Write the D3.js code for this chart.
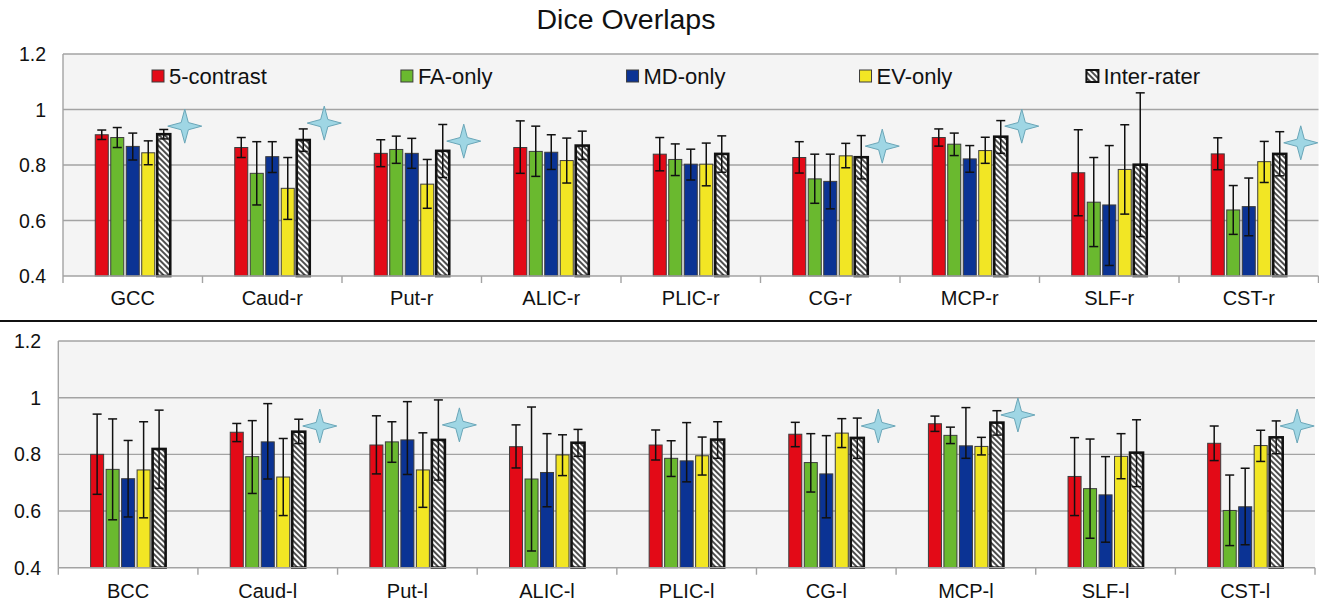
<!DOCTYPE html>
<html>
<head>
<meta charset="utf-8">
<script src="https://cdn.jsdelivr.net/npm/d3@7"></script>
<style>
  html, body { margin: 0; padding: 0; background: #fff; }
  svg { display: block; font-family: "Liberation Sans", Arial, sans-serif; }
</style>
</head>
<body>
<svg id="chart" width="1319" height="603"></svg>
<script>
// ---- Data -------------------------------------------------------------
const seriesNames = ["5-contrast", "FA-only", "MD-only", "EV-only", "Inter-rater"];
const yTicks = [0.4, 0.6, 0.8, 1, 1.2];

// Right hemisphere / midline structures (upper panel)
const categoriesTop = ["GCC", "Caud-r", "Put-r", "ALIC-r", "PLIC-r", "CG-r", "MCP-r", "SLF-r", "CST-r"];
const contrast5Top  = [0.909, 0.863, 0.842, 0.863, 0.839, 0.827, 0.899, 0.772, 0.840];
const faOnlyTop     = [0.899, 0.770, 0.856, 0.849, 0.820, 0.750, 0.875, 0.666, 0.638];
const mdOnlyTop     = [0.867, 0.830, 0.842, 0.846, 0.803, 0.741, 0.822, 0.656, 0.650];
const evOnlyTop     = [0.844, 0.716, 0.731, 0.816, 0.803, 0.833, 0.852, 0.784, 0.812];
const interRaterTop = [0.911, 0.890, 0.851, 0.870, 0.840, 0.828, 0.902, 0.801, 0.840];
// error bar ends [low, high]
const contrast5TopErr  = [[0.892,0.926],[0.827,0.899],[0.794,0.891],[0.770,0.959],[0.779,0.899],[0.771,0.884],[0.868,0.930],[0.617,0.927],[0.783,0.898]];
const faOnlyTopErr     = [[0.863,0.935],[0.656,0.884],[0.806,0.904],[0.759,0.940],[0.762,0.876],[0.662,0.839],[0.834,0.915],[0.506,0.827],[0.550,0.726]];
const mdOnlyTopErr     = [[0.818,0.915],[0.773,0.884],[0.788,0.896],[0.784,0.909],[0.746,0.857],[0.642,0.839],[0.774,0.870],[0.438,0.870],[0.545,0.753]];
const evOnlyTopErr     = [[0.801,0.887],[0.604,0.827],[0.644,0.820],[0.735,0.897],[0.725,0.879],[0.790,0.878],[0.806,0.900],[0.623,0.945],[0.737,0.885]];
const interRaterTopErr = [[0.894,0.928],[0.849,0.930],[0.755,0.946],[0.820,0.922],[0.774,0.905],[0.750,0.906],[0.842,0.960],[0.542,1.060],[0.761,0.920]];
// significance markers
const starCatsTop   = ["GCC", "Caud-r", "Put-r", "CG-r", "MCP-r", "CST-r"];
const starValsTop   = [0.940, 0.951, 0.886, 0.868, 0.940, 0.880];

// Left hemisphere / midline structures (lower panel)
const categoriesBottom = ["BCC", "Caud-l", "Put-l", "ALIC-l", "PLIC-l", "CG-l", "MCP-l", "SLF-l", "CST-l"];
const contrast5Bottom  = [0.800, 0.878, 0.833, 0.827, 0.833, 0.871, 0.908, 0.722, 0.839];
const faOnlyBottom     = [0.747, 0.792, 0.844, 0.713, 0.786, 0.771, 0.867, 0.679, 0.602];
const mdOnlyBottom     = [0.714, 0.844, 0.851, 0.736, 0.777, 0.731, 0.830, 0.657, 0.615];
const evOnlyBottom     = [0.745, 0.720, 0.745, 0.798, 0.795, 0.875, 0.828, 0.793, 0.831];
const interRaterBottom = [0.819, 0.880, 0.851, 0.841, 0.852, 0.858, 0.912, 0.806, 0.860];
const contrast5BottomErr  = [[0.659,0.942],[0.845,0.909],[0.731,0.936],[0.752,0.904],[0.780,0.886],[0.827,0.913],[0.881,0.935],[0.584,0.859],[0.778,0.900]];
const faOnlyBottomErr     = [[0.569,0.925],[0.662,0.919],[0.772,0.915],[0.459,0.967],[0.722,0.848],[0.667,0.873],[0.838,0.896],[0.504,0.854],[0.478,0.727]];
const mdOnlyBottomErr     = [[0.579,0.849],[0.713,0.979],[0.729,0.986],[0.615,0.873],[0.703,0.912],[0.576,0.866],[0.786,0.965],[0.490,0.792],[0.481,0.751]];
const evOnlyBottomErr     = [[0.576,0.915],[0.584,0.856],[0.613,0.876],[0.725,0.869],[0.727,0.861],[0.824,0.926],[0.798,0.860],[0.714,0.873],[0.775,0.885]];
const interRaterBottomErr = [[0.680,0.956],[0.838,0.924],[0.709,0.992],[0.793,0.888],[0.786,0.915],[0.786,0.928],[0.868,0.954],[0.686,0.922],[0.802,0.918]];
const starCatsBottom = ["Caud-l", "Put-l", "CG-l", "MCP-l", "CST-l"];
const starValsBottom = [0.900, 0.904, 0.900, 0.939, 0.900];

// ---- Styling ------------------------------------------------------------
const fills = ["#e30a17", "#6ab92f", "#0b3394", "#f2e624", "url(#hatch)"];
const strokes = ["#3c3c3c", "#3c3c3c", "#3c3c3c", "#3c3c3c", "#111"];
const strokeW = [1, 1, 1, 1, 2.6];

const svg = d3.select("#chart");
const defs = svg.append("defs");

const hatch = defs.append("pattern")
  .attr("id", "hatch")
  .attr("patternUnits", "userSpaceOnUse")
  .attr("width", 4).attr("height", 4)
  .attr("patternTransform", "rotate(-45)");
hatch.append("rect").attr("width", 4).attr("height", 4).attr("fill", "#fff");
hatch.append("line").attr("x1", 1).attr("y1", 0).attr("x2", 1).attr("y2", 4)
  .attr("stroke", "#222").attr("stroke-width", 1.6);

// Title
svg.append("text")
  .attr("x", 626).attr("y", 29)
  .attr("text-anchor", "middle")
  .attr("font-size", 28.5)
  .attr("fill", "#111")
  .text("Dice Overlaps");

// Separator between panels
svg.append("line")
  .attr("x1", 0).attr("x2", 1317).attr("y1", 321).attr("y2", 321)
  .attr("stroke", "#111").attr("stroke-width", 2);

function starPath(r, w) {
  return `M0,${-r} L${w},${-w} L${r},0 L${w},${w} L0,${r} L${-w},${w} L${-r},0 L${-w},${-w} Z`;
}

function drawPanel(cfg) {
  const g = svg.append("g");
  const x = d3.scaleBand().domain(cfg.categories).range([cfg.left, cfg.right]);
  const y = d3.scaleLinear().domain([0.4, 1.2]).range([cfg.bottom, cfg.top]);
  const groupW = 75;
  const xs = d3.scaleBand().domain(seriesNames).range([0, groupW]).paddingInner(0.16);

  // plot background
  g.append("rect")
    .attr("x", cfg.left).attr("y", cfg.top)
    .attr("width", cfg.right - cfg.left).attr("height", cfg.bottom - cfg.top)
    .attr("fill", "#f4f4f4");

  // gridlines
  g.append("g").selectAll("line").data(yTicks.slice(1)).join("line")
    .attr("x1", cfg.left).attr("x2", cfg.right)
    .attr("y1", d => y(d)).attr("y2", d => y(d))
    .attr("stroke", "#a3a3a3").attr("stroke-width", 1.4);

  // y axis line
  g.append("line")
    .attr("x1", cfg.left).attr("x2", cfg.left)
    .attr("y1", cfg.top).attr("y2", cfg.bottom)
    .attr("stroke", "#a3a3a3").attr("stroke-width", 1.4);

  // y tick labels
  g.append("g").selectAll("text").data(yTicks).join("text")
    .attr("x", cfg.labelRight).attr("y", d => y(d))
    .attr("dy", "0.36em")
    .attr("text-anchor", "end")
    .attr("font-size", 19.5)
    .attr("fill", "#111")
    .text(d => d3.format("")(d));

  // bars
  cfg.series.forEach((vals, si) => {
    const errs = cfg.errors[si];
    const sg = g.append("g");
    sg.selectAll("rect").data(vals).join("rect")
      .attr("x", (d, i) => x(cfg.categories[i]) + (x.bandwidth() - groupW) / 2 + xs(seriesNames[si]))
      .attr("y", d => y(d))
      .attr("width", xs.bandwidth())
      .attr("height", d => y(0.4) - y(d))
      .attr("fill", fills[si])
      .attr("stroke", strokes[si])
      .attr("stroke-width", strokeW[si]);
    // error bars
    const eg = g.append("g").attr("stroke", "#111").attr("stroke-width", 1.5);
    errs.forEach((e, i) => {
      const cx = x(cfg.categories[i]) + (x.bandwidth() - groupW) / 2 + xs(seriesNames[si]) + xs.bandwidth() / 2;
      eg.append("line").attr("x1", cx).attr("x2", cx).attr("y1", y(e[0])).attr("y2", y(e[1]));
      eg.append("line").attr("x1", cx - 4.5).attr("x2", cx + 4.5).attr("y1", y(e[0])).attr("y2", y(e[0]));
      eg.append("line").attr("x1", cx - 4.5).attr("x2", cx + 4.5).attr("y1", y(e[1])).attr("y2", y(e[1]));
    });
  });

  // x axis line and category ticks
  g.append("line")
    .attr("x1", cfg.left).attr("x2", cfg.right)
    .attr("y1", y(0.4)).attr("y2", y(0.4))
    .attr("stroke", "#a3a3a3").attr("stroke-width", 1.6);
  const bounds = cfg.categories.map(c => x(c)).concat([cfg.right]);
  g.append("g").selectAll("line").data(bounds).join("line")
    .attr("x1", d => d).attr("x2", d => d)
    .attr("y1", y(0.4)).attr("y2", y(0.4) + 7)
    .attr("stroke", "#a3a3a3").attr("stroke-width", 1.4);

  // category labels
  g.append("g").selectAll("text").data(cfg.categories).join("text")
    .attr("x", d => x(d) + x.bandwidth() / 2)
    .attr("y", cfg.labelY)
    .attr("text-anchor", "middle")
    .attr("font-size", 20)
    .attr("fill", "#111")
    .text(d => d);

  // significance stars
  g.append("g").selectAll("path").data(cfg.starCats).join("path")
    .attr("transform", (d, i) => `translate(${x(d) + x.bandwidth() / 2 + 52},${y(cfg.starVals[i])})`)
    .attr("d", starPath(17, 3.6))
    .attr("fill", "#9fd6e4")
    .attr("stroke", "#6aa6b8")
    .attr("stroke-width", 1);

  return { x, y };
}

drawPanel({
  categories: categoriesTop,
  series: [contrast5Top, faOnlyTop, mdOnlyTop, evOnlyTop, interRaterTop],
  errors: [contrast5TopErr, faOnlyTopErr, mdOnlyTopErr, evOnlyTopErr, interRaterTopErr],
  starCats: starCatsTop, starVals: starValsTop,
  left: 63, right: 1318.5, top: 54, bottom: 276,
  labelRight: 46, labelY: 305
});

drawPanel({
  categories: categoriesBottom,
  series: [contrast5Bottom, faOnlyBottom, mdOnlyBottom, evOnlyBottom, interRaterBottom],
  errors: [contrast5BottomErr, faOnlyBottomErr, mdOnlyBottomErr, evOnlyBottomErr, interRaterBottomErr],
  starCats: starCatsBottom, starVals: starValsBottom,
  left: 58.3, right: 1315, top: 341, bottom: 567.7,
  labelRight: 41, labelY: 598
});

// Legend (upper panel)
const legend = svg.append("g");
const items = legend.selectAll("g").data(seriesNames).join("g");
items.append("rect")
  .attr("width", 12).attr("height", 12)
  .attr("y", 70)
  .attr("fill", (d, i) => fills[i])
  .attr("stroke", (d, i) => i === 4 ? "#111" : "#3c3c3c")
  .attr("stroke-width", (d, i) => i === 4 ? 2 : 1);
items.append("text")
  .attr("x", 17).attr("y", 83.5)
  .attr("font-size", 22)
  .attr("fill", "#111")
  .text(d => d);
const widths = [];
items.each(function () { widths.push(17 + this.querySelector("text").getComputedTextLength()); });
const legStart = 152, legEnd = 1200;
const legGap = (legEnd - legStart - d3.sum(widths)) / (seriesNames.length - 1);
let cursor = legStart;
items.attr("transform", (d, i) => {
  const t = `translate(${cursor},0)`;
  cursor += widths[i] + legGap;
  return t;
});
</script>
</body>
</html>
